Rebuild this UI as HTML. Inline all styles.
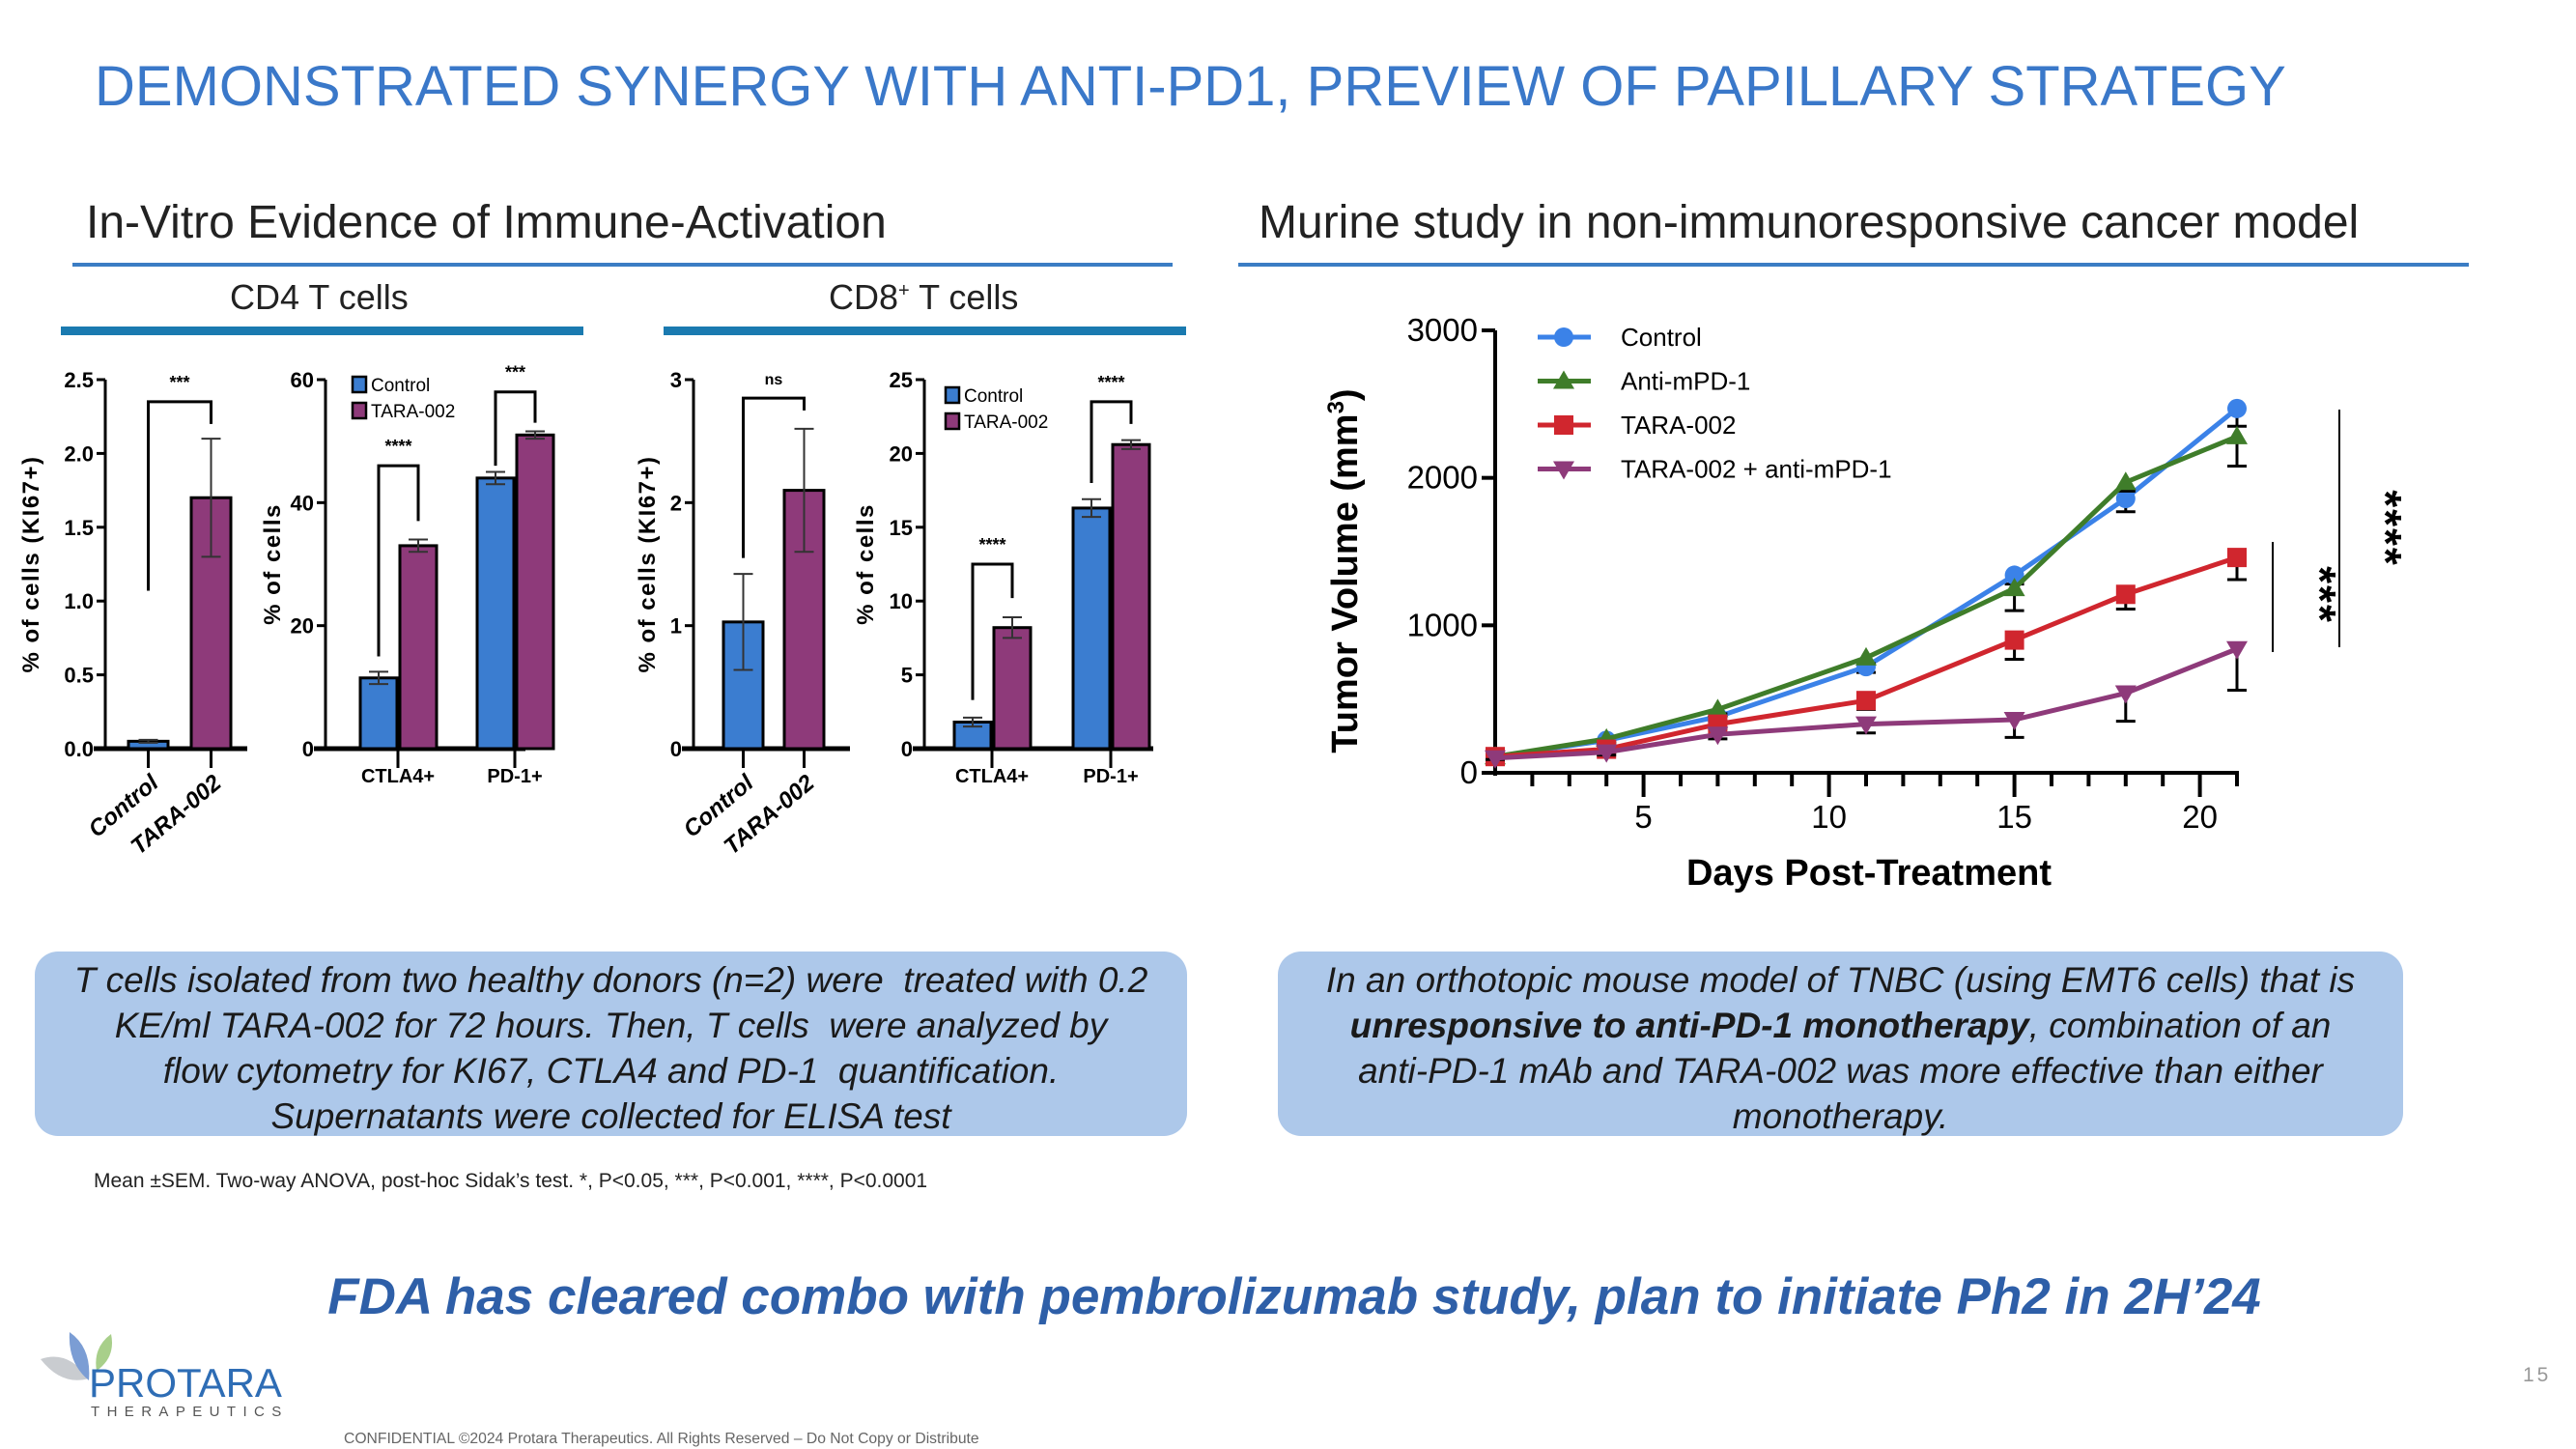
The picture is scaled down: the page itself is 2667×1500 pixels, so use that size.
<!DOCTYPE html>
<html><head><meta charset="utf-8">
<style>
body{margin:0;background:#fff;}
#root{position:relative;width:2667px;height:1500px;overflow:hidden;background:#fff;font-family:"Liberation Sans",sans-serif;}
.abs{position:absolute;white-space:nowrap;}
.box{position:absolute;background:#adc8ea;border-radius:24px;font-style:italic;font-size:37px;line-height:47px;text-align:center;color:#1a1a1a;box-sizing:border-box;padding-top:6px;}
</style></head>
<body>
<div id="root">
<div class="abs" style="left:98px;top:56px;font-size:58px;color:#3a78c9;">DEMONSTRATED SYNERGY WITH ANTI-PD1, PREVIEW OF PAPILLARY STRATEGY</div>
<div class="abs" style="left:89px;top:203px;font-size:48px;color:#222;">In-Vitro Evidence of Immune-Activation</div>
<div class="abs" style="left:75px;top:272px;width:1139px;height:4px;background:#3b7dc4;"></div>
<div class="abs" style="left:1303px;top:203px;font-size:48px;color:#222;">Murine study in non-immunoresponsive cancer model</div>
<div class="abs" style="left:1282px;top:272px;width:1274px;height:4px;background:#3b7dc4;"></div>
<div class="abs" style="left:238px;top:287px;font-size:36px;color:#222;">CD4 T cells</div>
<div class="abs" style="left:63px;top:338px;width:541px;height:9px;background:#1a7ab0;"></div>
<div class="abs" style="left:858px;top:287px;font-size:36px;color:#222;">CD8<sup style="font-size:20px">+</sup> T cells</div>
<div class="abs" style="left:687px;top:338px;width:541px;height:9px;background:#1a7ab0;"></div>

<svg id="bars" width="1260" height="900" style="position:absolute;left:0;top:0;font-family:'Liberation Sans',sans-serif"></svg>
<svg id="line" width="2667" height="960" style="position:absolute;left:0;top:0;font-family:'Liberation Sans',sans-serif"></svg>

<div class="box" style="left:36px;top:985px;width:1193px;height:191px;">T cells isolated from two healthy donors (n=2) were&nbsp; treated with 0.2<br>KE/ml TARA-002 for 72 hours. Then, T cells&nbsp; were analyzed by<br>flow cytometry for KI67, CTLA4 and PD-1&nbsp; quantification.<br>Supernatants were collected for ELISA test</div>
<div class="box" style="left:1323px;top:985px;width:1165px;height:191px;">In an orthotopic mouse model of TNBC (using EMT6 cells) that is<br><b>unresponsive to anti-PD-1 monotherapy</b>, combination of an<br>anti-PD-1 mAb and TARA-002 was more effective than either<br>monotherapy.</div>
<div class="abs" style="left:97px;top:1211px;font-size:21px;color:#222;">Mean ±SEM. Two-way ANOVA, post-hoc Sidak’s test. *, P&lt;0.05, ***, P&lt;0.001, ****, P&lt;0.0001</div>
<div class="abs" style="left:0;width:2680px;text-align:center;top:1312px;font-size:53px;font-weight:bold;font-style:italic;color:#2e5fa8;">FDA has cleared combo with pembrolizumab study, plan to initiate Ph2 in 2H’24</div>
<svg class="abs" width="90" height="70" style="left:40px;top:1375px">
<path d="M2 32 Q30 22 52 52 Q24 60 2 32Z" fill="#c9ccd0"/>
<path d="M32 4 Q55 20 52 54 Q30 36 32 4Z" fill="#7b9dd4"/>
<path d="M75 6 Q80 30 60 44 Q56 20 75 6Z" fill="#a8cf8a"/>
</svg>
<div class="abs" style="left:92px;top:1408px;font-size:42px;color:#2e6db5;">PROTARA</div>
<div class="abs" style="left:94px;top:1453px;font-size:15px;letter-spacing:7.4px;color:#555;">THERAPEUTICS</div>
<div class="abs" style="left:2612px;top:1412px;font-size:21px;color:#999;letter-spacing:3px;">15</div>
<div class="abs" style="left:356px;top:1481px;font-size:15.7px;color:#666;">CONFIDENTIAL ©2024 Protara Therapeutics. All Rights Reserved – Do Not Copy or Distribute</div>
</div>

<script>
// ---------- bar chart data ----------
const cd4KiGroups = ["Control","TARA-002"];
const cd4KiValues = [0.05, 1.7];
const cd4KiErrors = [0.01, 0.4];
const cd4KiTicks = ["0.0","0.5","1.0","1.5","2.0","2.5"];
const cd4MarkCats = ["CTLA4+","PD-1+"];
const cd4MarkControl = [11.5, 44];
const cd4MarkTara = [33, 51];
const cd4MarkCtrlErr = [1, 1];
const cd4MarkTaraErr = [1, 0.6];
const cd4MarkTicks = ["0","20","40","60"];
const cd8KiGroups = ["Control","TARA-002"];
const cd8KiValues = [1.03, 2.1];
const cd8KiErrors = [0.39, 0.5];
const cd8KiTicks = ["0","1","2","3"];
const cd8MarkCats = ["CTLA4+","PD-1+"];
const cd8MarkControl = [1.8, 16.3];
const cd8MarkTara = [8.2, 20.6];
const cd8MarkCtrlErr = [0.3, 0.6];
const cd8MarkTaraErr = [0.7, 0.3];
const cd8MarkTicks = ["0","5","10","15","20","25"];

// ---------- line chart data ----------
const days = [1,4,7,11,15,18,21];
const seriesNames = ["Control","Anti-mPD-1","TARA-002","TARA-002 + anti-mPD-1"];
const controlVals = [110,220,380,720,1340,1860,2470];
const controlErr = [10,20,30,40,60,90,120];
const antiVals = [110,230,430,780,1250,1970,2280];
const antiErr = [10,20,30,40,150,60,200];
const taraVals = [110,160,330,490,900,1210,1460];
const taraErr = [10,20,30,60,130,100,150];
const comboVals = [100,140,260,330,360,540,840];
const comboErr = [10,20,30,60,120,190,280];
const yTicksLine = [0,1000,2000,3000];
const xTicksLine = [5,10,15,20];

const NS="http://www.w3.org/2000/svg";
function mk(parent, tag, attrs, text){const e=document.createElementNS(NS,tag);for(const k in attrs)e.setAttribute(k,attrs[k]);if(text!==undefined)e.textContent=text;parent.appendChild(e);return e;}

const BLUE="#3b7dd0", PURP="#8e3a7a";
const bsvg=document.getElementById('bars');
const Y0=775, YT=393;

function axis(g, ax, xEnd, max, ticks){
  const ys=v=>Y0-v/max*(Y0-YT);
  let l=mk(g,'line',{x1:ax,y1:YT,x2:ax,y2:Y0+2,stroke:'#000','stroke-width':3});
  
  l=mk(g,'line',{x1:ax-12,y1:Y0,x2:xEnd,y2:Y0,stroke:'#000','stroke-width':5});
  
  ticks.forEach(t=>{const v=parseFloat(t);
    let tk=mk(g,'line',{x1:ax-9,y1:ys(v),x2:ax,y2:ys(v),stroke:'#000','stroke-width':3});
    
    let tl=mk(g,'text',{x:ax-12,y:ys(v)+8,'text-anchor':'end','font-size':22,'font-weight':'bold'},t);
    
  });
  return ys;
}
function bar(g,x,w,v,e,ys,col){
  let r=mk(g,'rect',{x:x,y:ys(v),width:w,height:Y0-ys(v),fill:col,stroke:'#000','stroke-width':3});
  
  const cx=x+w/2;
  let el=mk(g,'path',{d:`M${cx} ${ys(v)} V${ys(v+e)} M${cx-10} ${ys(v+e)} H${cx+10} M${cx-10} ${ys(v-e)} H${cx+10} M${cx} ${ys(v)} V${ys(v-e)}`,stroke:'#333','stroke-width':2,fill:'none'});
  
}
function bracket(g,x1,x2,top,l1,l2,label,ys,ls){
  let p=mk(g,'path',{d:`M${x1} ${ys(l1)} V${ys(top)} H${x2} V${ys(l2)}`,stroke:'#000','stroke-width':3,fill:'none'});
  
  let t=mk(g,'text',{x:(x1+x2)/2,y:ys(top)-14,'text-anchor':'middle','font-size':ls||18,'font-weight':'bold'},label);
  
}
function ylabel(g,x,text){
  let t=mk(g,'text',{x:0,y:0,transform:`translate(${x},${(Y0+YT)/2}) rotate(-90)`,'text-anchor':'middle','font-size':24,'font-weight':'bold','letter-spacing':1.5},text);
  
}
function groupChart(id,ax,xEnd,max,ticks,groups,vals,errs,x0,step,w,lab,labX,sig){
  const g=mk(bsvg,'g',{});
  const ys=axis(g,ax,xEnd,max,ticks);
  groups.forEach((n,i)=>{const x=x0+i*step;bar(g,x,w,vals[i],errs[i],ys,i?PURP:BLUE);
    const cx=x+w/2;mk(g,'line',{x1:cx,y1:Y0,x2:cx,y2:Y0+20,stroke:'#000','stroke-width':3});
    let t=mk(g,'text',{x:0,y:0,transform:`translate(${cx+12},${Y0+38}) rotate(-40)`,'text-anchor':'end','font-size':24,'font-weight':'bold','font-style':'italic'},n);
    
  });
  ylabel(g,labX,lab);
  bracket(g,x0+w/2,x0+step+w/2,sig[0],sig[1],sig[2],sig[3],ys,sig[4]);
}
function markerChart(id,ax,xEnd,max,ticks,cats,cv,tv,ce,te,x0,gstep,w,lab,labX,legX,legY,sigs){
  const g=mk(bsvg,'g',{});
  const ys=axis(g,ax,xEnd,max,ticks);
  cats.forEach((c,i)=>{const x=x0+i*gstep;
    bar(g,x,w,cv[i],ce[i],ys,BLUE);bar(g,x+w+3,w,tv[i],te[i],ys,PURP);
    const cx=x+w+1;mk(g,'line',{x1:cx,y1:Y0,x2:cx,y2:Y0+20,stroke:'#000','stroke-width':3});
    let t=mk(g,'text',{x:cx,y:Y0+35,'text-anchor':'middle','font-size':20,'font-weight':'bold'},c);
    
    const s=sigs[i];bracket(g,x+w/2,x+w+3+w/2,s[0],s[1],s[2],s[3],ys);
  });
  ylabel(g,labX,lab);
  [["Control",BLUE],["TARA-002",PURP]].forEach((L,i)=>{
    let r=mk(g,'rect',{x:legX,y:legY+i*27,width:14,height:16,fill:L[1],stroke:'#000','stroke-width':2.5});
    
    let t=mk(g,'text',{x:legX+19,y:legY+i*27+15,'font-size':19},L[0]);
    
  });
}
groupChart('cd4-ki67-chart',109,256,2.5,cd4KiTicks,cd4KiGroups,cd4KiValues,cd4KiErrors,133,65,41,'% of cells (KI67+)',40,[2.35,1.07,2.2,'***',18]);
markerChart('cd4-marker-chart',337,544,60,cd4MarkTicks,cd4MarkCats,cd4MarkControl,cd4MarkTara,cd4MarkCtrlErr,cd4MarkTaraErr,373,121,38,'% of cells',290,365,390,[[46,15,37,'****'],[58,46,53,'***']]);
groupChart('cd8-ki67-chart',718,880,3,cd8KiTicks,cd8KiGroups,cd8KiValues,cd8KiErrors,749,63,41,'% of cells (KI67+)',678,[2.85,1.55,2.75,'ns',16]);
markerChart('cd8-marker-chart',957,1194,25,cd8MarkTicks,cd8MarkCats,cd8MarkControl,cd8MarkTara,cd8MarkCtrlErr,cd8MarkTaraErr,988,123,38,'% of cells',904,979,401,[[12.5,3.3,10.2,'****'],[23.5,18,22,'****']]);

// ---------- line chart ----------
const lsvg=document.getElementById('line');
const LX0=1548, LDX=38.4, LY0=800, LYT=342;
const xs=d=>LX0+(d-1)*LDX;
const yv=v=>LY0-v/3000*(LY0-LYT);
let a=mk(lsvg,'line',{x1:LX0,y1:LYT,x2:LX0,y2:LY0+3,stroke:'#000','stroke-width':4});

a=mk(lsvg,'line',{x1:LX0-2,y1:LY0,x2:xs(21)+2,y2:LY0,stroke:'#000','stroke-width':4});

yTicksLine.forEach(v=>{
  let t=mk(lsvg,'line',{x1:LX0-14,y1:yv(v),x2:LX0,y2:yv(v),stroke:'#000','stroke-width':4});
  
  let l=mk(lsvg,'text',{x:LX0-18,y:yv(v)+11,'text-anchor':'end','font-size':33},String(v));
  
});
for(let d=2;d<=21;d++){
  const major=xTicksLine.includes(d);
  let t=mk(lsvg,'line',{x1:xs(d),y1:LY0,x2:xs(d),y2:LY0+(major?25:14),stroke:'#000','stroke-width':4});
  
}
xTicksLine.forEach(d=>{let l=mk(lsvg,'text',{x:xs(d),y:857,'text-anchor':'middle','font-size':33},String(d));
  });
let tt=mk(lsvg,'text',{x:0,y:0,transform:`translate(1405,${(LY0+LYT)/2+20}) rotate(-90)`,'text-anchor':'middle','font-size':38,'font-weight':'bold'});

tt.innerHTML='Tumor Volume (mm<tspan dy="-14" font-size="24">3</tspan><tspan dy="14">)</tspan>';
tt=mk(lsvg,'text',{x:1935,y:916,'text-anchor':'middle','font-size':38,'font-weight':'bold'},'Days Post-Treatment');


const series=[[controlVals,controlErr,'#3b82e8','circle'],[antiVals,antiErr,'#3f7d2a','tri'],[taraVals,taraErr,'#d0262e','square'],[comboVals,comboErr,'#8e3a7a','itri']];
function marker(g,type,x,y,col){
  let m;
  if(type==='circle')m=mk(g,'circle',{cx:x,cy:y,r:10,fill:col});
  else if(type==='square')m=mk(g,'rect',{x:x-10,y:y-10,width:20,height:20,fill:col});
  else if(type==='tri')m=mk(g,'path',{d:`M${x} ${y-11} L${x+11} ${y+8} L${x-11} ${y+8}Z`,fill:col});
  else m=mk(g,'path',{d:`M${x} ${y+11} L${x+11} ${y-8} L${x-11} ${y-8}Z`,fill:col});
  
}
series.forEach((s,si)=>{
  const g=mk(lsvg,'g',{});
  s[0].forEach((v,i)=>{const x=xs(days[i]),y1=yv(v),y2=yv(v-s[1][i]);
    let e=mk(g,'path',{d:`M${x} ${y1} V${y2} M${x-10} ${y2} H${x+10}`,stroke:'#000','stroke-width':3,fill:'none'});
    });
  let p=mk(g,'polyline',{points:s[0].map((v,i)=>xs(days[i])+','+yv(v)).join(' '),fill:'none',stroke:s[2],'stroke-width':5});
  
  s[0].forEach((v,i)=>marker(g,s[3],xs(days[i]),yv(v),s[2]));
});
seriesNames.forEach((n,i)=>{const y=349+i*45.5,s=series[i];
  let l=mk(lsvg,'line',{x1:1592,y1:y,x2:1647,y2:y,stroke:s[2],'stroke-width':5});
  
  marker(lsvg,s[3],1619,y,s[2]);
  let t=mk(lsvg,'text',{x:1678,y:y+9,'font-size':26},n);
  
});
let s1=mk(lsvg,'line',{x1:2422,y1:424,x2:2422,y2:670,stroke:'#000','stroke-width':2});

let s2=mk(lsvg,'line',{x1:2353,y1:561,x2:2353,y2:675,stroke:'#000','stroke-width':2});

let st=mk(lsvg,'text',{x:0,y:0,transform:'translate(2454,547) rotate(90)','text-anchor':'middle','font-size':46,'font-weight':'bold','letter-spacing':2},'****');

st=mk(lsvg,'text',{x:0,y:0,transform:'translate(2386,616) rotate(90)','text-anchor':'middle','font-size':46,'font-weight':'bold','letter-spacing':2},'***');

</script>
</body></html>
